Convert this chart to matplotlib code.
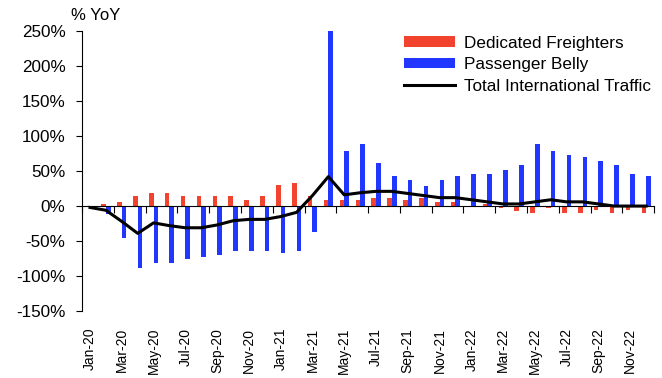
import matplotlib.pyplot as plt
import numpy as np
import pandas as pd

plt.rcParams['font.family'] = ['Liberation Sans', 'DejaVu Sans']

# monthly YoY growth, Jan-20 .. Dec-22
months = pd.date_range('2020-01-01', '2022-12-01', freq='MS').strftime('%b-%y').tolist()

freighters = [-2, 3, 6, 15, 18, 18, 15, 15, 15, 15, 9, 15,
              30, 33, 15, 9, 9, 9, 12, 12, 9, 12, 6, 6,
              -2, 3, -3, -7, -10, -3, -10, -10, -6, -10, -6, -10]
belly = [-2, -11, -46, -88, -82, -82, -76, -73, -70, -64, -64, -64,
         -67, -64, -37, 252, 79, 88, 61, 43, 37, 28, 37, 43,
         46, 46, 52, 58, 88, 79, 73, 70, 64, 58, 46, 43]
total = [-2, -6, -22, -39, -24, -28, -31, -31, -27, -21, -19, -19,
         -15, -9, 15, 42, 16, 19, 21, 21, 18, 15, 12, 12,
         9, 6, 3, 3, 6, 9, 6, 6, 3, 0, 0, 0]

red = '#F2432F'
blue = '#2137FF'

x = np.arange(len(months))
w = 0.29

fig = plt.figure(figsize=(6.62, 3.78), dpi=100)
ax = fig.add_axes([0.124, 0.177, 0.864, 0.741])

b1 = ax.bar(x - w / 2, freighters, w, color=red, label='Dedicated Freighters')
b2 = ax.bar(x + w / 2, belly, w, color=blue, label='Passenger Belly')
l1, = ax.plot(x, total, color='black', lw=2.2, label='Total International Traffic')

ax.set_xlim(-0.5, len(months) - 0.5)
ax.set_ylim(-150, 250)
ax.set_yticks(np.arange(-150, 251, 50))
ax.set_yticklabels([f'{v}%' for v in range(-150, 251, 50)], fontsize=12.3)
ax.tick_params(axis='y', direction='out', length=4.5, width=0.8, pad=7.5)

# category axis sits on the zero line, ticks between every second month
for s in ['top', 'right']:
    ax.spines[s].set_visible(False)
ax.spines['bottom'].set_position(('data', 0))
ax.spines['left'].set_linewidth(0.8)
ax.set_xticks(np.arange(-0.5, len(months), 2))
ax.tick_params(axis='x', direction='out', length=5, width=0.8, labelbottom=False)

lab = ax.secondary_xaxis('bottom')
lab.set_xticks(x[::2], months[::2], rotation=90, fontsize=10)
lab.tick_params(length=0, pad=12)
lab.spines['bottom'].set_visible(False)

fig.text(0.108, 0.96, '% YoY', fontsize=12, va='center', ha='left')

ax.legend(handles=[b1, b2, l1], loc='upper left', bbox_to_anchor=(0.600, 0.924),
          bbox_transform=fig.transFigure, frameon=False, fontsize=12.3,
          handlelength=3.0, handleheight=0.6, labelspacing=0.38,
          handletextpad=0.5, borderaxespad=0)

fig.savefig('out.png', dpi=100)
